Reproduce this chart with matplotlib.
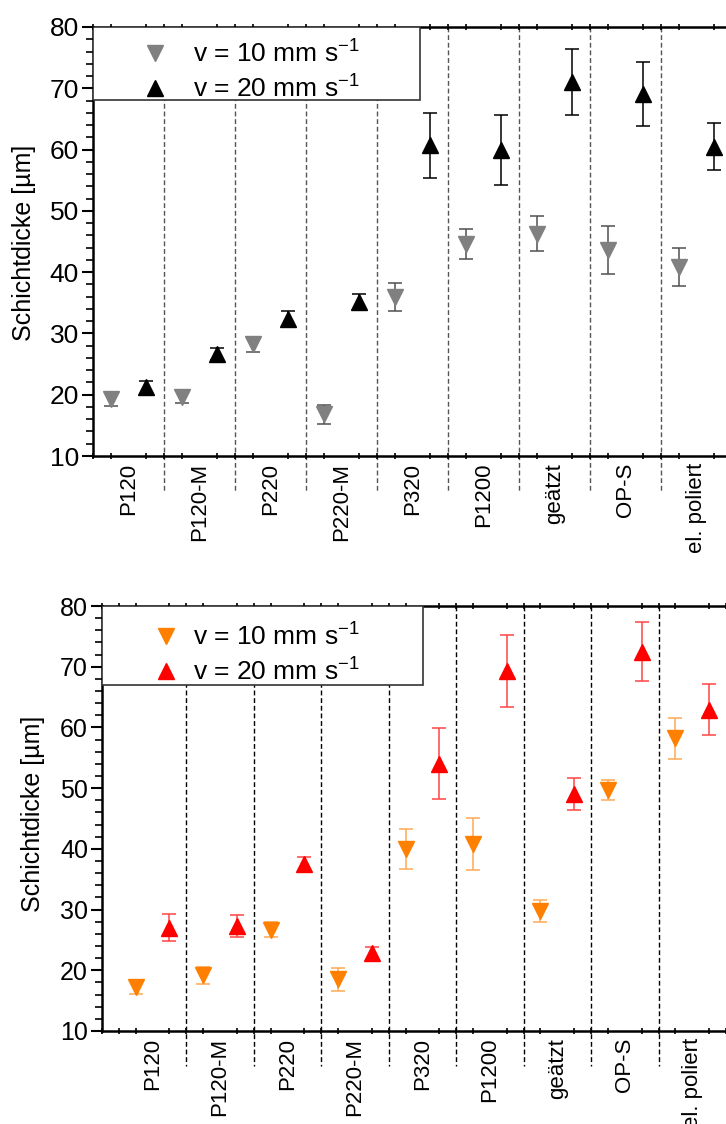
import numpy as np
import matplotlib
matplotlib.use("Agg")
import matplotlib.pyplot as plt
from matplotlib.patches import Rectangle
from matplotlib.lines import Line2D
from matplotlib.ticker import MultipleLocator

plt.rcParams['font.family'] = ['Liberation Sans', 'DejaVu Sans']
plt.rcParams['mathtext.fontset'] = 'custom'
plt.rcParams['mathtext.rm'] = 'Liberation Sans'
plt.rcParams['mathtext.it'] = 'Liberation Sans'

# categories (same in both panels)
categories = ["P120", "P120-M", "P220", "P220-M", "P320", "P1200",
              "geätzt", "OP-S", "el. poliert"]

# top panel
top_v10 = [19.3, 19.7, 28.2, 16.8, 36.0, 44.6, 46.3, 43.6, 40.85]
top_v10_err = [1.2, 1.1, 1.2, 1.5, 2.3, 2.5, 2.9, 3.9, 3.05]
top_v20 = [21.2, 26.7, 32.4, 35.1, 60.7, 60.0, 71.0, 69.1, 60.5]
top_v20_err = [1.1, 1.0, 1.2, 1.35, 5.3, 5.7, 5.4, 5.2, 3.8]

# bottom panel
bot_v10 = [17.2, 19.2, 26.7, 18.5, 39.95, 40.8, 29.75, 49.7, 58.2]
bot_v10_err = [1.1, 1.4, 1.2, 1.9, 3.25, 4.3, 1.75, 1.7, 3.4]
bot_v20 = [27.0, 27.3, 37.5, 22.8, 54.05, 69.3, 49.1, 72.5, 62.9]
bot_v20_err = [2.2, 1.8, 1.1, 1.1, 5.85, 6.0, 2.65, 4.8, 4.2]

labels = [r"v = 10 mm s$^{\mathregular{-1}}$", r"v = 20 mm s$^{\mathregular{-1}}$"]

W, H = 726, 1124
fig = plt.figure(figsize=(W / 100, H / 100), dpi=100)


def panel(rect, xmin, v10, e10, v20, e20, c10, ce10, c20, ce20, sepcol,
          tick_fs, legbox, leg_anchor, htpad):
    ax = fig.add_axes(rect)
    x = np.arange(len(categories)) + 0.5
    ax.errorbar(x - 0.25, v10, yerr=e10, fmt='v', color=c10, ecolor=ce10,
                ms=11, capsize=5, elinewidth=1.1, capthick=1.1, zorder=3)
    ax.errorbar(x + 0.25, v20, yerr=e20, fmt='^', color=c20, ecolor=ce20,
                ms=11, capsize=5, elinewidth=1.1, capthick=1.1, zorder=3)
    ax.set_xlim(xmin, 9)
    ax.set_ylim(10, 80)
    # dashed separators, extending below the axis
    for s in range(1, len(categories)):
        ax.plot([s, s], [80, 10 - 5.8], ls=(0, (3.5, 2)), color=sepcol,
                lw=1, clip_on=False, zorder=1)
    ax.set_xticks(x)
    ax.set_xticklabels(categories, rotation=90, va='top', ha='center',
                       fontsize=16)
    ax.tick_params(axis='x', which='major', length=0, pad=5)
    ax.xaxis.set_minor_locator(MultipleLocator(0.25))
    ax.tick_params(axis='x', which='minor', direction='inout', length=4,
                   width=1.2, top=True, bottom=True)
    ax.yaxis.set_major_locator(MultipleLocator(10))
    ax.yaxis.set_minor_locator(MultipleLocator(2))
    ax.tick_params(axis='y', which='major', direction='out', length=8,
                   width=1.5, labelsize=tick_fs, pad=2)
    ax.tick_params(axis='y', which='minor', direction='out', length=5,
                   width=1.2)
    for sp in ['left', 'bottom', 'top']:
        ax.spines[sp].set_linewidth(1.8)
    ax.spines['right'].set_visible(False)
    # legend box
    ax.add_patch(Rectangle((legbox[0], legbox[1]), legbox[2], legbox[3],
                           transform=ax.transAxes, facecolor='white',
                           edgecolor='#333333', lw=1.2, zorder=4))
    handles = [Line2D([], [], ls='none', marker='v', ms=11, color=c10),
               Line2D([], [], ls='none', marker='^', ms=11, color=c20)]
    leg = ax.legend(handles, labels, loc='upper left',
                    bbox_to_anchor=leg_anchor, frameon=False, fontsize=19,
                    handlelength=1.0, handletextpad=htpad, labelspacing=0.3,
                    borderpad=0.3, borderaxespad=0)
    leg.set_zorder(5)
    return ax


# top panel: axes 93..732 px, 27..456 px
ax1 = panel([93 / W, 1 - 456 / H, 639 / W, 429 / H], 0,
            top_v10, top_v10_err, top_v20, top_v20_err,
            '#808080', '#505050', 'black', 'black', '#555555',
            19, (0, 0.83, 0.512, 0.17), (0.064, 0.988), 0.94)
fig.text(24 / W, 1 - 243 / H, "Schichtdicke [µm]", rotation=90,
         ha='center', va='center', fontsize=18)

# bottom panel: axes 102..726 px, 606..1031 px
ax2 = panel([102 / W, 1 - 1031 / H, 624 / W, 425 / H], -0.25,
            bot_v10, bot_v10_err, bot_v20, bot_v20_err,
            '#FF8000', '#FFAA55', '#FF0000', '#FF4444', 'black',
            18, (0, 0.815, 0.515, 0.185), (0.069, 0.978), 0.52)
fig.text(33 / W, 1 - 814 / H, "Schichtdicke [µm]", rotation=90,
         ha='center', va='center', fontsize=18)

fig.savefig("out.png", dpi=100)
